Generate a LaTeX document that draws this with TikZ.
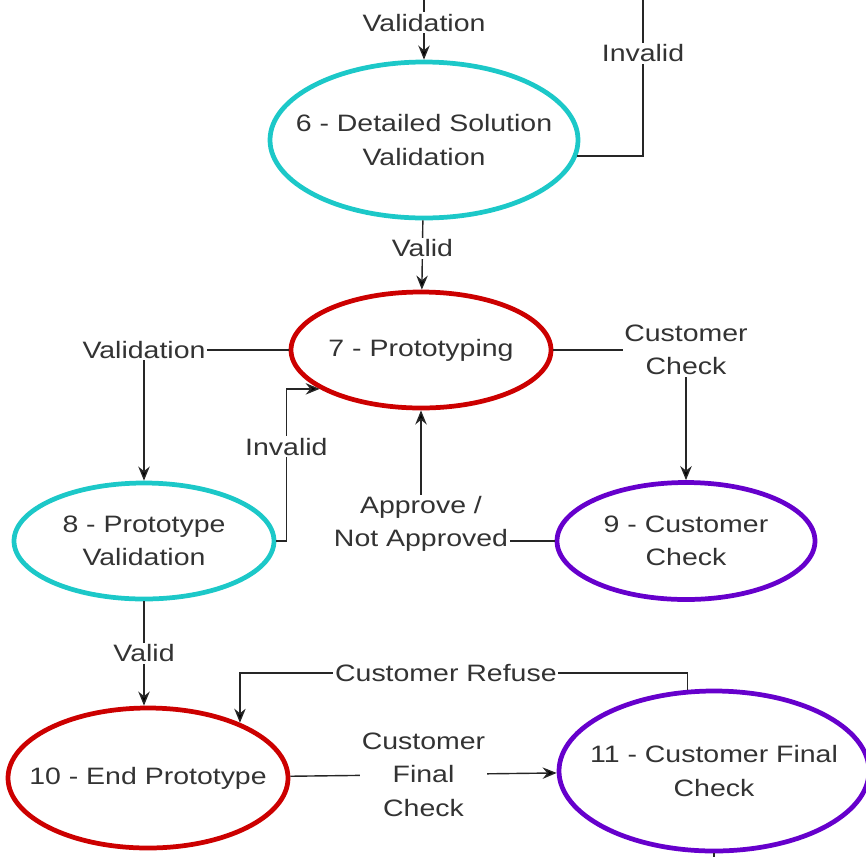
\documentclass[tikz,border=0pt]{standalone}
\usepackage{fontspec}
\setmainfont[FakeStretch=1.2]{Liberation Sans}
\usepackage{tikz}
\usetikzlibrary{shapes.geometric, arrows.meta}
\definecolor{cian}{HTML}{1CC8C8}
\definecolor{rojo}{HTML}{CC0000}
\definecolor{morado}{HTML}{6600CC}
\tikzset{
	>={Stealth[length=8pt, width=6.5pt]}, % Punta de flecha
	font=\fontsize{13.5}{19}\selectfont, % Letra de todo el diagrama
	every node/.style={text=black!80}, % Texto gris oscuro
	etapa/.style={ellipse, line width=2.7pt, inner sep=0pt}, % Propiedades de las etapas
	every label/.style={align=center, inner sep=0pt}, % Texto dentro de las etapas
	etiqueta/.style={fill=white, inner sep=1pt, align=center}, % Texto sobre los arcos
	arco/.style={draw=black!85, line width=0.8pt}, % Lineas de union
	hv/.style={to path={-| (\tikztotarget) \tikztonodes}} % Primero horizontal
}

\begin{document}
\begin{tikzpicture}
				\useasboundingbox (0,0) rectangle (17.32,-17.14);
				\node[etapa, draw=cian, minimum width=6.16cm, minimum height=3.12cm, label=center:{6 - Detailed Solution\\Validation}] (q6) at (8.48,-2.80) {};
				\node[etapa, draw=rojo, minimum width=5.2cm, minimum height=2.32cm, label=center:{7 - Prototyping}] (q7) at (8.42,-7.00) {};
				\node[etapa, draw=cian, minimum width=5.2cm, minimum height=2.32cm, label=center:{8 - Prototype\\Validation}] (q8) at (2.88,-10.82) {};
				\node[etapa, draw=morado, minimum width=5.16cm, minimum height=2.34cm, label=center:{9 - Customer\\Check}] (q9) at (13.72,-10.82) {};
				\node[etapa, draw=rojo, minimum width=5.6cm, minimum height=2.8cm, label=center:{10 - End Prototype}] (q10) at (2.96,-15.56) {};
				\node[etapa, draw=morado, minimum width=6.2cm, minimum height=3.2cm, label=center:{11 - Customer Final\\Check}] (q11) at (14.28,-15.42) {};
				\coordinate (arriba) at (8.48,0);
				\coordinate (invalido) at (12.86,0);
				\coordinate (abajo) at (14.28,-17.14);
				\draw[arco]	(arriba) edge[->] node[etiqueta, pos=0.38]{Validation} (q6)
						(q6.354) edge[hv] node[etiqueta, pos=0.83]{Invalid} (invalido)
						(q6) edge[->] node[etiqueta, pos=0.4]{Valid} (q7)
						(q7) edge[->, hv] node[etiqueta, pos=0.5]{Validation} (q8)
						(q8.east) edge[->, to path={-- ++(0.2,0) |- (\tikztotarget) \tikztonodes}] node[etiqueta, pos=0.31]{Invalid} (q7.201)
						(q7) edge[->, hv] node[etiqueta, pos=0.5]{Customer\\Check} (q9)
						(q9) edge[->, hv] node[etiqueta, pos=0.5, yshift=0.34cm]{Approve /\\Not Approved} (q7)
						(q8.south) edge[->] node[etiqueta]{Valid} (q8.south |- q10.north)
						(q11.108) edge[->, to path={-- ++(0,0.34) -| (\tikztotarget) \tikztonodes}] node[etiqueta, pos=0.27]{Customer Refuse} (q10.31)
						(q10) edge[->] node[etiqueta]{Customer\\Final\\Check} (q11)
						(q11) edge (abajo);
			\end{tikzpicture}
\end{document}
